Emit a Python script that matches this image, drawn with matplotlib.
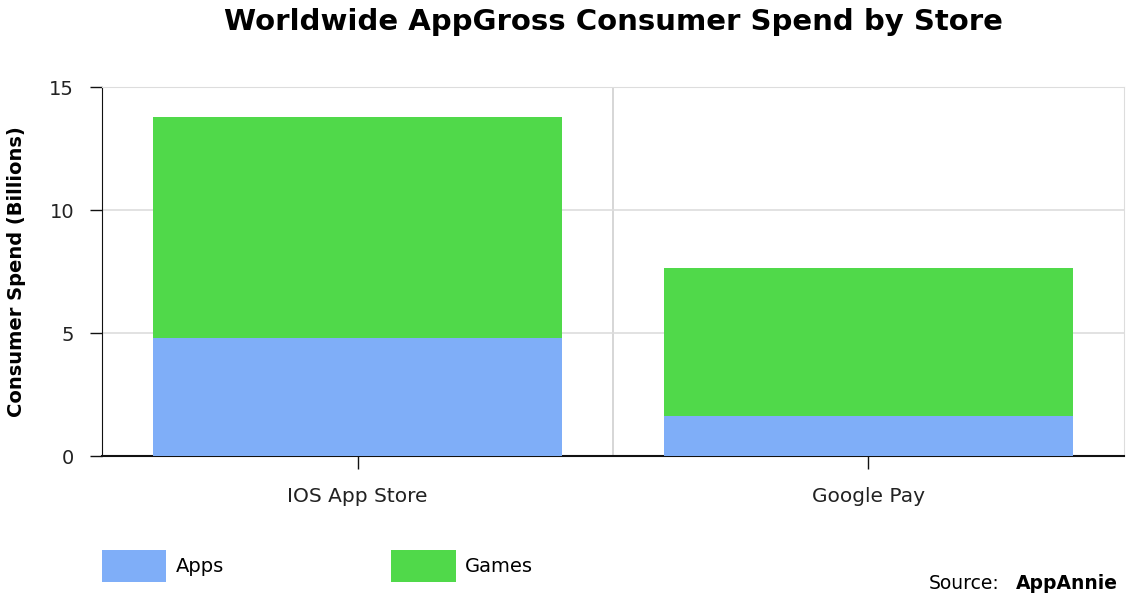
import matplotlib
matplotlib.use("Agg")
from matplotlib import pyplot as plt
import numpy as np

stores = ["IOS App Store", "Google Pay"]
apps = [4.8, 1.63]
games = [9.0, 6.0]
series_names = ["Apps", "Games"]
colors = ["#7faef8", "#50d94a"]

fig = plt.figure(figsize=(11.26, 5.94), dpi=100)
ax = fig.add_axes([0.0906, 0.2323, 0.9076, 0.6212])

x = np.arange(len(stores))
ax.bar(x, apps, width=0.8, color=colors[0], label=series_names[0], zorder=3)
ax.bar(x, games, width=0.8, bottom=apps, color=colors[1], label=series_names[1], zorder=3)

ax.set_xlim(-0.5, len(stores) - 0.5)
ax.set_ylim(0, 15)
ax.set_yticks([0, 5, 10, 15])
ax.set_xticks(x)
ax.set_xticklabels(stores)

# grid lines + category separator
ax.yaxis.grid(True, color="#dddddd", linewidth=1.2, zorder=0)
for b in np.arange(0.5, len(stores) - 0.5, 1):
	ax.axvline(b, color="#d0d0d0", linewidth=1.2, zorder=0)

for s in ["top", "right"]:
	ax.spines[s].set_color("#dddddd")
ax.spines["left"].set_color("#111111")
ax.spines["bottom"].set_color("#111111")
ax.spines["bottom"].set_linewidth(1.5)
ax.tick_params(axis="both", length=9, width=1, color="#111111",
			   labelsize=14, labelcolor="#222222")
ax.tick_params(axis="x", labelsize=14.5, pad=13)
ax.tick_params(axis="y", pad=11)

ax.set_ylabel("Consumer Spend (Billions)", fontsize=14, fontweight="bold")
ax.yaxis.set_label_coords(-0.074, 0.5)

fig.text(0.545, 0.963, "Worldwide AppGross Consumer Spend by Store", fontsize=21,
		 fontweight="bold", ha="center", va="center")

fig.legend(loc="lower left", bbox_to_anchor=(0.0906, 0.02), ncol=2, frameon=False,
		   fontsize=14, handlelength=3.3, handleheight=2.2, handletextpad=0.5,
		   columnspacing=8.6, borderpad=0, borderaxespad=0)

fig.text(0.993, 0.0185, "AppAnnie", ha="right", va="center", fontsize=13.5, fontweight="bold")
fig.text(0.888, 0.0185, "Source:", ha="right", va="center", fontsize=13.5)

fig.savefig("out.png", dpi=100)
